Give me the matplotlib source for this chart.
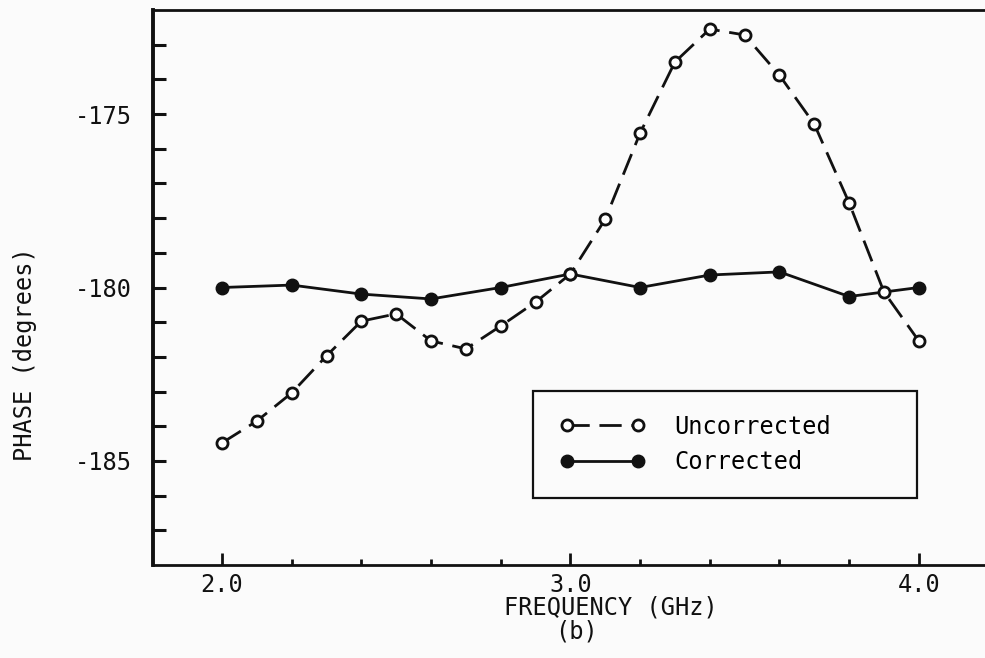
"""Phase of the uncorrected and corrected measurement versus frequency."""

import numpy
from matplotlib import pyplot
from matplotlib.legend_handler import HandlerLine2D
from matplotlib.ticker import FixedLocator

# Data.
freq_uncorr = [2.0, 2.1, 2.2, 2.3, 2.4, 2.5, 2.6, 2.7, 2.8, 2.9, 3.0,
               3.1, 3.2, 3.3, 3.4, 3.5, 3.6, 3.7, 3.8, 3.9, 4.0]
phase_uncorr = [-184.48, -183.85, -183.04, -181.97, -180.97, -180.76,
                -181.54, -181.77, -181.11, -180.42, -179.61, -178.03,
                -175.55, -173.50, -172.55, -172.72, -173.88, -175.29,
                -177.56, -180.13, -181.54]
freq_corr = [2.0, 2.2, 2.4, 2.6, 2.8, 3.0, 3.2, 3.4, 3.6, 3.8, 4.0]
phase_corr = [-180.0, -179.93, -180.19, -180.33, -180.0, -179.61,
              -180.0, -179.64, -179.55, -180.26, -180.0]

xticks = [2.0, 3.0, 4.0]
xticklabels = ['2.0', '3.0', '4.0']
yticks = [-185, -180, -175]
yticklabels = ['-185', '-180', '-175']

W, H = 985, 658
pyplot.rc('font', family=['DejaVu Sans Mono'], size=17)
fig = pyplot.figure(figsize=(W / 100, H / 100), dpi=100)
fig.patch.set_facecolor('#fbfbfb')

# Axes box (right side cut off as in the scan).
ax = fig.add_axes([153 / W, 1 - 565 / H, (W - 153) / W, (565 - 10) / H])
ax.set_facecolor('#fbfbfb')
ax.set_xlim(1.802, 4.19)
ax.set_ylim(-188.0, -172.0)

ink = '#111111'
ax.plot(freq_uncorr, phase_uncorr, color=ink, linewidth=2.0,
        linestyle=(0, (8, 3.5)), marker='o', markersize=8,
        markerfacecolor='white', markeredgecolor=ink, markeredgewidth=2.0,
        label='Uncorrected', zorder=3)
ax.plot(freq_corr, phase_corr, color=ink, linewidth=2.0,
        marker='o', markersize=9, markerfacecolor=ink, markeredgecolor=ink,
        label='Corrected', zorder=2)

# Spines.
ax.spines['right'].set_visible(False)
ax.spines['left'].set_linewidth(2.8)
ax.spines['top'].set_linewidth(2.0)
ax.spines['bottom'].set_linewidth(2.0)
for s in ax.spines.values():
    s.set_color(ink)

# Ticks: all inward, labels only on the major ones.
ax.set_xticks(xticks)
ax.set_xticklabels(xticklabels)
ax.xaxis.set_minor_locator(FixedLocator(numpy.arange(2.2, 3.9, 0.2)))
ax.set_yticks(yticks)
ax.set_yticklabels(yticklabels)
ax.yaxis.set_minor_locator(FixedLocator(numpy.arange(-187, -172)))
ax.tick_params(axis='x', which='major', direction='in', length=9, width=2,
               pad=6, colors=ink, top=False)
ax.tick_params(axis='x', which='minor', direction='in', length=4.5, width=2,
               colors=ink, top=False)
ax.tick_params(axis='y', which='both', direction='in', length=9.5, width=2.2,
               pad=15, colors=ink, right=False)

# Axis labels placed to match the scan.
fig.text(611 / W, 1 - 608 / H, 'FREQUENCY (GHz)', ha='center', va='center',
         color=ink)
fig.text(576 / W, 1 - 631 / H, '(b)', ha='center', va='center', color=ink)
fig.text(25 / W, 1 - 354 / H, 'PHASE (degrees)', ha='center', va='center',
         rotation=90, color=ink)

# Legend box.
leg = ax.legend(loc='upper left',
                bbox_to_anchor=((533 - 153) / 832, 0.0, (917 - 533) / 832,
                                (565 - 391) / 555),
                mode='expand', borderaxespad=0, numpoints=2,
                handlelength=3.9, handletextpad=1.1, borderpad=1.0,
                labelspacing=0.48, fancybox=False, framealpha=1,
                handler_map={l: HandlerLine2D(marker_pad=0.45)
                             for l in ax.get_lines()})
leg.get_frame().set_edgecolor(ink)
leg.get_frame().set_linewidth(1.6)
leg.get_frame().set_facecolor('#fbfbfb')

fig.savefig('out.png', dpi=100, facecolor=fig.get_facecolor())
